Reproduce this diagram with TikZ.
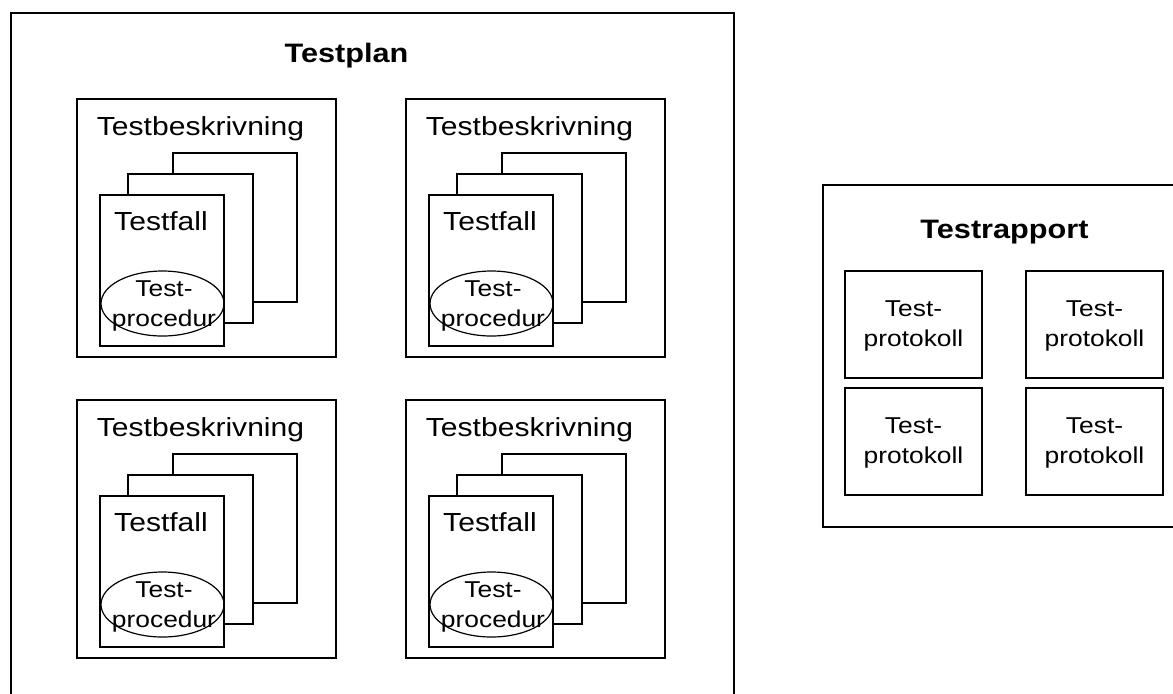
\documentclass[tikz,border=0pt]{standalone}
\usepackage{fontspec}
\setmainfont{Liberation Sans}[FakeStretch=1.15]
\newcommand\twolines[2]{\begin{tabular}[t]{@{}c@{}}#1\\#2\end{tabular}}
\begin{document}
\begin{tikzpicture}[x=0.75pt,y=-0.75pt,
  frame/.style={draw=black, line width=1.2pt, fill=white},
  page/.style={draw=black, line width=1.2pt, fill=white},
  oval/.style={draw=black, line width=0.9pt},
  big/.style={font=\fontsize{19.6}{23}\selectfont, inner sep=0pt, anchor=base},
  small/.style={font=\fontsize{17.2}{22.5}\selectfont, inner sep=0pt, anchor=base},
  title/.style={font=\fontsize{20}{24}\selectfont\bfseries, inner sep=0pt, anchor=base}]
\clip (0,0) rectangle (1173,693);
\fill[white] (0,0) rectangle (1173,693);
% Testplan
\draw[frame] (11,13) rectangle (734,710);
\node[title] (plan) at (346.5,62.7) {Testplan};
\foreach \c/\r/\n in {0/0/a,1/0/b,0/1/c,1/1/d}{
  \begin{scope}[shift={(77+329*\c,99+301*\r)}]
    \draw[frame] (0,0) rectangle (259,258);
    \node[big] (tb\n) at (123.5,36.7) {Testbeskrivning};
    \draw[page] (96,54) rectangle (220,203);
    \draw[page] (51,75) rectangle (176,224);
    \draw[page] (23,96) rectangle (147,247);
    \node[big] (tf\n) at (84,131) {Testfall};
    \draw[oval] (85.5,204.5) ellipse [x radius=61.5, y radius=32.5];
    \node[small] (tp\n) at (87,197.7) {\twolines{Test-}{procedur}};
  \end{scope}
}
% Testrapport
\draw[frame] (823,185) rectangle (1190,527);
\node[title] (rap) at (1004.5,238) {Testrapport};
\foreach \x/\y/\n in {845/271/a,1026/271/b,845/388/c,1026/388/d}{
  \draw[frame] (\x,\y) rectangle ++(137,107);
  \node[small] (pr\n) at (\x+68.5,\y+45.7) {\twolines{Test-}{protokoll}};
}
\end{tikzpicture}
\end{document}
